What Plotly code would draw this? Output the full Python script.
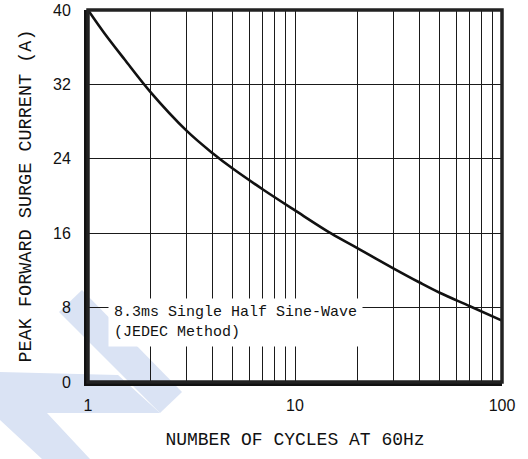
import plotly.graph_objects as go

# ---- data ----
cycles = [1, 1.2, 1.5, 2, 3, 4, 5, 7, 10, 15, 20, 30, 40, 50, 70, 100]
surge_current = [40, 37.5, 34.7, 31.2, 27.0, 24.6, 22.95, 20.7, 18.45, 15.95, 14.4, 12.2, 10.7, 9.6, 8.15, 6.6]

x_grid = [1, 2, 3, 4, 5, 6, 7, 8, 9, 10, 20, 30, 40, 50, 60, 70, 80, 90, 100]
x_labels = ["1", "", "", "", "", "", "", "", "", "10", "", "", "", "", "", "", "", "", "100"]
y_ticks = [0, 8, 16, 24, 32, 40]

note_text = "8.3ms Single Half Sine-Wave<br>(JEDEC Method)"
x_title = "NUMBER OF CYCLES AT 60Hz"
y_title = "PEAK FORWARD SURGE CURRENT (A)"

# ---- layout geometry (pixels) ----
W, H = 528, 459
L, R, T, B = 88, 26, 10, 77
PW, PH = W - L - R, H - T - B


def px_to_paper(px, py):
    return (px - L) / PW, (H - B - py) / PH


def path_from_px(points):
    pts = [px_to_paper(x, y) for x, y in points]
    return "M " + " L ".join(f"{x:.4f},{y:.4f}" for x, y in pts) + " Z"


# light blue watermark pieces (pixel coordinates of the canvas)
wm_stripe = [(82, 290), (182, 392), (160, 413), (59, 312)]
wm_lower = [(0, 372), (118, 375), (160, 413), (47, 413), (90, 459), (42, 459), (0, 420)]
wm_color = "#dae3f4"

mono = "Liberation Mono"
sans = "Liberation Sans"

fig = go.Figure()
fig.add_trace(go.Scatter(
    x=cycles, y=surge_current, mode="lines",
    line=dict(color="#111111", width=2.6, shape="spline", smoothing=1.0),
    hoverinfo="skip", showlegend=False,
))

fig.update_layout(
    width=W, height=H,
    margin=dict(l=L, r=R, t=T, b=B, pad=0, autoexpand=False),
    paper_bgcolor="white",
    plot_bgcolor="rgba(0,0,0,0)",
    showlegend=False,
    xaxis=dict(
        type="log", range=[0, 2], automargin=False,
        tickvals=x_grid, ticktext=x_labels, ticks="",
        showgrid=True, gridcolor="#1a1a1a", gridwidth=1.2,
        showline=True, linecolor="#111111", linewidth=4,
        tickfont=dict(family=sans, size=16, color="#111111"),
        ticklabelstandoff=6,
        title=dict(text=x_title, font=dict(family=mono, size=18, color="#111111"), standoff=20),
        zeroline=False,
    ),
    yaxis=dict(
        range=[0, 40], tickvals=y_ticks, ticks="", automargin=False,
        showgrid=True, gridcolor="#1a1a1a", gridwidth=1.2,
        showline=True, linecolor="#111111", linewidth=4,
        tickfont=dict(family=sans, size=16, color="#111111"),
        ticklabelstandoff=10,
        title=dict(text=y_title, font=dict(family=mono, size=18.5, color="#111111"), standoff=18),
        zeroline=False,
    ),
    shapes=[
        dict(type="path", path=path_from_px(wm_stripe), xref="paper", yref="paper",
             fillcolor=wm_color, line=dict(width=0), layer="below"),
        dict(type="path", path=path_from_px(wm_lower), xref="paper", yref="paper",
             fillcolor=wm_color, line=dict(width=0), layer="below"),
        dict(type="rect", xref="paper", yref="paper", x0=0, x1=1, y0=0, y1=1,
             line=dict(color="#222222", width=3.5), layer="above"),
    ],
    annotations=[
        dict(text=note_text, xref="paper", yref="paper",
             x=px_to_paper(108, 0)[0], y=px_to_paper(0, 298)[1],
             xanchor="left", yanchor="top", align="left", showarrow=False,
             bgcolor="white", borderpad=5,
             font=dict(family=mono, size=15, color="#111111")),
    ],
)

fig.write_html(
    "out.html",
    config={"displayModeBar": False},
    post_script="document.body.style.margin='0';document.body.style.overflow='hidden';",
)
